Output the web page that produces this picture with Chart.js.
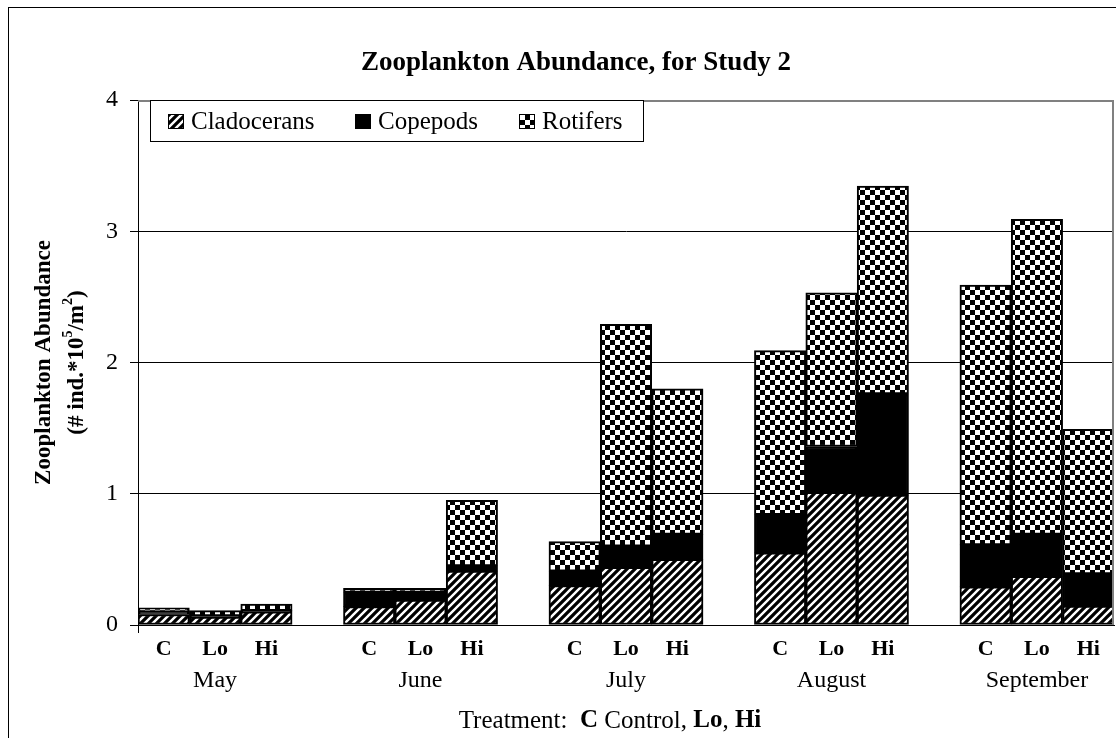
<!DOCTYPE html>
<html>
<head>
<meta charset="utf-8">
<script src="https://cdn.jsdelivr.net/npm/chart.js@4"></script>
<style>
  html, body { margin: 0; padding: 0; background: #fff; }
  #wrap { width: 1116px; height: 738px; }
</style>
</head>
<body>
<div id="wrap"><canvas id="zoo" width="1116" height="738"></canvas></div>
<script>
// 19 slots: three treatments per month with an empty slot between months
const treatments = ['C', 'Lo', 'Hi', '', 'C', 'Lo', 'Hi', '', 'C', 'Lo', 'Hi', '', 'C', 'Lo', 'Hi', '', 'C', 'Lo', 'Hi'];
const months = ['', 'May', '', '', '', 'June', '', '', '', 'July', '', '', '', 'August', '', '', '', 'September', ''];

const cladocerans = [0.08, 0.06, 0.10, null, 0.14, 0.19, 0.41, null, 0.30, 0.44, 0.50, null, 0.55, 1.01, 0.99, null, 0.29, 0.37, 0.145];
const copepods    = [0.02, 0.01, 0.01, null, 0.11, 0.06, 0.04, null, 0.11, 0.16, 0.19, null, 0.29, 0.35, 0.77, null, 0.32, 0.32, 0.245];
const rotifers    = [0.03, 0.04, 0.05, null, 0.03, 0.03, 0.50, null, 0.225, 1.69, 1.11, null, 1.25, 1.17, 1.585, null, 1.98, 2.40, 1.10];

const yTicks = [0, 1, 2, 3, 4];

const SERIF = '"Liberation Serif", "Times New Roman", serif';

function hatchPattern() {
    let c = document.createElement('canvas');
    c.width = 8; c.height = 8;
    let g = c.getContext('2d');
    g.fillStyle = '#000';
    g.fillRect(0, 0, 8, 8);
    g.strokeStyle = '#fff';
    g.lineWidth = 2.4;
    g.beginPath();
    g.moveTo(-2, 10); g.lineTo(10, -2);
    g.moveTo(-6, 6); g.lineTo(6, -6);
    g.moveTo(2, 14); g.lineTo(14, 2);
    g.stroke();
    return g.createPattern(c, 'repeat');
}

function checkerPattern() {
    let c = document.createElement('canvas');
    c.width = 10; c.height = 10;
    let g = c.getContext('2d');
    g.fillStyle = '#fff';
    g.fillRect(0, 0, 10, 10);
    g.fillStyle = '#000';
    g.fillRect(0, 0, 5, 5);
    g.fillRect(5, 5, 5, 5);
    return g.createPattern(c, 'repeat');
}

// draws a run of [text, bold, superscript] pieces starting at x
function drawRuns(ctx, runs, x, y, size) {
    runs.forEach((r) => {
        let sup = r[2];
        let fs = sup ? Math.round(size * 0.6) : size;
        ctx.font = (r[1] ? 'bold ' : '') + fs + 'px ' + SERIF;
        ctx.fillText(r[0], x, sup ? y - size * 0.38 : y);
        x += ctx.measureText(r[0]).width;
    });
    return x;
}

function runsWidth(ctx, runs, size) {
    let w = 0;
    runs.forEach((r) => {
        let fs = r[2] ? Math.round(size * 0.6) : size;
        ctx.font = (r[1] ? 'bold ' : '') + fs + 'px ' + SERIF;
        w += ctx.measureText(r[0]).width;
    });
    return w;
}

const decorations = {
    id: 'decorations',
    afterDraw(chart) {
        const ctx = chart.ctx;
        const area = chart.chartArea;
        ctx.save();

        // outer frame
        ctx.strokeStyle = '#000';
        ctx.lineWidth = 1;
        ctx.strokeRect(8.5, 7.5, 1300, 900);

        // plot frame, top and right
        ctx.strokeStyle = '#808080';
        ctx.lineWidth = 2;
        ctx.beginPath();
        ctx.moveTo(area.left, area.top + 1);
        ctx.lineTo(area.right - 1, area.top + 1);
        ctx.lineTo(area.right - 1, area.bottom);
        ctx.stroke();

        // little tick below the origin
        ctx.strokeStyle = '#000';
        ctx.lineWidth = 1;
        ctx.beginPath();
        ctx.moveTo(area.left + 0.5, area.bottom);
        ctx.lineTo(area.left + 0.5, area.bottom + 8);
        ctx.stroke();

        // title
        ctx.fillStyle = '#000';
        ctx.textAlign = 'center';
        ctx.textBaseline = 'middle';
        ctx.font = 'bold 27px ' + SERIF;
        ctx.fillText('Zooplankton Abundance, for Study 2', 576, 63);

        // y axis title, two rotated lines
        ctx.save();
        ctx.translate(44, (area.top + area.bottom) / 2);
        ctx.rotate(-Math.PI / 2);
        ctx.font = 'bold 23px ' + SERIF;
        ctx.fillText('Zooplankton Abundance', 0, 0);
        ctx.textAlign = 'left';
        let unit = [['(# ind.*10', true], ['5', true, true], ['/m', true], ['2', true, true], [')', true]];
        let w = runsWidth(ctx, unit, 23);
        drawRuns(ctx, unit, -w / 2, 33, 23);
        ctx.restore();

        // treatment key below the months
        ctx.textAlign = 'left';
        let key = [['Treatment:  ', false], ['C', true], [' Control, ', false], ['Lo', true], [', ', false], ['Hi', true]];
        let kw = runsWidth(ctx, key, 25);
        drawRuns(ctx, key, 610 - kw / 2, 721, 25);

        // legend box
        ctx.fillStyle = '#fff';
        ctx.fillRect(150, 100, 493, 41);
        ctx.strokeStyle = '#000';
        ctx.lineWidth = 1;
        ctx.strokeRect(150.5, 100.5, 493, 41);
        let itemX = [168, 355, 519];
        chart.data.datasets.forEach((ds, i) => {
            let bx = itemX[i];
            ctx.fillStyle = ds.backgroundColor;
            ctx.fillRect(bx, 114, 16, 15);
            ctx.strokeStyle = '#000';
            ctx.strokeRect(bx + 0.5, 114.5, 15, 14);
            ctx.fillStyle = '#000';
            ctx.font = '25px ' + SERIF;
            ctx.textBaseline = 'middle';
            ctx.fillText(ds.label, bx + 23, 122);
        });

        ctx.restore();
    }
};

const hatch = hatchPattern();
const checker = checkerPattern();

function barSet(label, data, fill) {
    return {
        label: label,
        data: data,
        backgroundColor: fill,
        borderColor: '#000',
        borderWidth: 2,
        borderSkipped: false,
        barPercentage: 1,
        categoryPercentage: 1
    };
}

new Chart(document.getElementById('zoo'), {
    type: 'bar',
    data: {
        labels: treatments,
        datasets: [
            barSet('Cladocerans', cladocerans, hatch),
            barSet('Copepods', copepods, '#000'),
            barSet('Rotifers', rotifers, checker)
        ]
    },
    options: {
        responsive: false,
        animation: false,
        layout: { padding: { top: 100, right: 2, bottom: 0, left: 0 } },
        plugins: {
            legend: { display: false },
            title: { display: false },
            tooltip: { enabled: false }
        },
        scales: {
            x: {
                stacked: true,
                weight: 0,
                grid: { display: false },
                border: { display: true, color: '#000', width: 1 },
                ticks: {
                    autoSkip: false,
                    maxRotation: 0,
                    padding: 3,
                    color: '#000',
                    font: { family: SERIF, size: 22, weight: 'bold' }
                },
                afterFit: (scale) => { scale.height = 32; }
            },
            x2: {
                type: 'category',
                labels: months,
                position: 'bottom',
                weight: 1,
                grid: { display: false },
                border: { display: false },
                ticks: {
                    autoSkip: false,
                    maxRotation: 0,
                    padding: 1,
                    color: '#000',
                    font: { family: SERIF, size: 24 }
                },
                afterFit: (scale) => { scale.height = 81; }
            },
            y: {
                stacked: true,
                min: 0,
                max: 4,
                afterBuildTicks: (scale) => {
                    scale.ticks = yTicks.map((v) => ({ value: v }));
                },
                grid: {
                    color: (c) => c.tick && c.tick.value === 4 ? 'rgba(0,0,0,0)' : '#000',
                    tickColor: '#000',
                    tickLength: 8,
                    lineWidth: 1
                },
                border: { color: '#000', width: 1 },
                ticks: {
                    padding: 12,
                    color: '#000',
                    font: { family: SERIF, size: 24 }
                },
                afterFit: (scale) => { scale.width = 138; }
            }
        }
    },
    plugins: [decorations]
});
</script>
</body>
</html>
